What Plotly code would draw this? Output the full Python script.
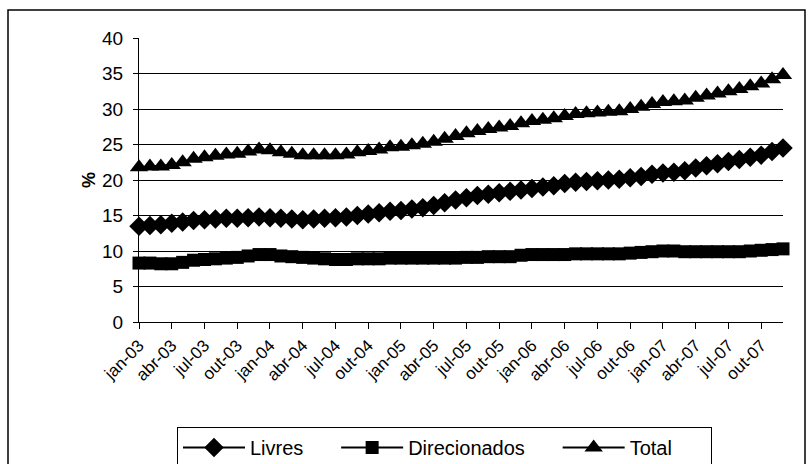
import plotly.graph_objects as go

# Monthly series, jan-03 .. dez-07 (%)
meses = ["jan", "fev", "mar", "abr", "mai", "jun", "jul", "ago", "set", "out", "nov", "dez"]
anos = ["03", "04", "05", "06", "07"]
categorias = [f"{m}-{a}" for a in anos for m in meses]

livres = [
    13.5, 13.6, 13.7, 13.9, 14.1, 14.3, 14.4, 14.5, 14.6, 14.6, 14.7, 14.8,
    14.7, 14.6, 14.5, 14.4, 14.5, 14.6, 14.7, 14.8, 15.0, 15.2, 15.4, 15.6,
    15.7, 15.9, 16.1, 16.4, 16.8, 17.2, 17.5, 17.8, 18.0, 18.2, 18.4, 18.6,
    18.8, 19.0, 19.2, 19.5, 19.7, 19.8, 19.9, 20.0, 20.1, 20.3, 20.5, 20.8,
    21.0, 21.1, 21.3, 21.7, 22.0, 22.3, 22.6, 22.9, 23.2, 23.5, 24.0, 24.5,
]
direcionados = [
    8.3, 8.3, 8.2, 8.2, 8.4, 8.7, 8.8, 8.9, 9.0, 9.1, 9.3, 9.5,
    9.5, 9.3, 9.2, 9.1, 9.0, 8.9, 8.8, 8.8, 8.9, 8.9, 8.9, 9.0,
    9.0, 9.0, 9.0, 9.0, 9.0, 9.0, 9.1, 9.1, 9.2, 9.2, 9.2, 9.4,
    9.5, 9.5, 9.5, 9.5, 9.6, 9.6, 9.6, 9.6, 9.6, 9.7, 9.8, 9.9,
    10.0, 10.0, 9.9, 9.9, 9.9, 9.9, 9.9, 9.9, 10.0, 10.1, 10.2, 10.3,
]
total = [
    21.8, 21.9, 21.9, 22.1, 22.5, 23.0, 23.2, 23.4, 23.6, 23.7, 24.0, 24.3,
    24.2, 23.9, 23.7, 23.5, 23.5, 23.5, 23.5, 23.6, 23.9, 24.1, 24.3, 24.6,
    24.7, 24.9, 25.1, 25.4, 25.8, 26.2, 26.6, 26.9, 27.2, 27.4, 27.6, 28.0,
    28.3, 28.5, 28.7, 29.0, 29.3, 29.4, 29.5, 29.6, 29.7, 30.0, 30.3, 30.7,
    31.0, 31.1, 31.2, 31.6, 31.9, 32.2, 32.5, 32.8, 33.2, 33.6, 34.2, 34.8,
]

y_ticks = [0, 5, 10, 15, 20, 25, 30, 35, 40]

FONT = "Liberation Sans, Arial, sans-serif"
NB = "\u00a0"
x = list(range(len(categorias)))
tick_idx = list(range(0, len(categorias), 3))

fig = go.Figure()
series = [
    ("Livres", livres, "diamond", 15, NB * 5),
    ("Direcionados", direcionados, "square", 13, NB * 5),
    ("Total", total, "triangle-up", 16, NB * 6),
]
for nome, vals, simbolo, tam, pad in series:
    fig.add_trace(go.Scatter(
        x=x, y=vals, name=nome + pad, mode="lines+markers",
        line=dict(color="black", width=2),
        marker=dict(symbol=simbolo, size=tam, color="black"),
        cliponaxis=False,
    ))

W, H = 811, 464
L, R, T, B = 139, 28, 38, 142
pw, ph = W - L - R, H - T - B

def px(xp):
    return (xp - L) / pw

def py(yp):
    return (H - B - yp) / ph

fig.update_layout(
    width=W, height=H,
    margin=dict(l=L, r=R, t=T, b=B, autoexpand=False),
    paper_bgcolor="white", plot_bgcolor="white",
    font=dict(family=FONT, color="black", size=17),
    showlegend=True,
    legend=dict(
        orientation="h", x=px(177), xanchor="left", y=py(427), yanchor="top",
        bordercolor="black", borderwidth=1, font=dict(size=20),
        itemwidth=62,
    ),
    shapes=[dict(
        type="rect", xref="paper", yref="paper",
        x0=px(8), x1=px(805), y0=py(480), y1=py(10),
        line=dict(color="black", width=1.5), layer="below",
    )],
)
fig.update_xaxes(
    range=[0, len(categorias) - 1],
    tickmode="array", tickvals=tick_idx,
    ticktext=[categorias[i] for i in tick_idx],
    tickangle=-45, ticks="outside", ticklen=6, tickcolor="black",
    showline=True, linecolor="black", linewidth=1,
    showgrid=False, zeroline=False, automargin=False,
    tickfont=dict(size=17),
)
fig.update_yaxes(
    range=[0, 40], tickmode="array", tickvals=y_ticks,
    ticks="outside", ticklen=5, tickcolor="black",
    showline=True, linecolor="black", linewidth=1,
    showgrid=True, gridcolor="black", gridwidth=1, zeroline=False,
    automargin=False, ticklabelstandoff=6,
    tickfont=dict(size=19),
    title=dict(text="<b>%</b>", font=dict(size=18), standoff=1),
)

fig.write_html("out.html")
